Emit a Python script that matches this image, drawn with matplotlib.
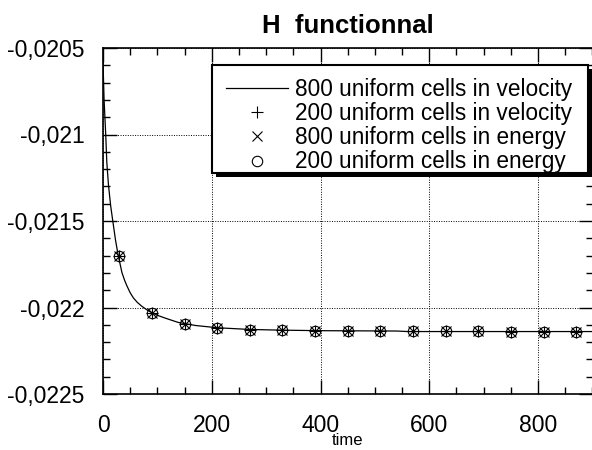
import matplotlib
matplotlib.use('Agg')
import matplotlib.pyplot as plt
from matplotlib.lines import Line2D
from matplotlib.patches import Rectangle
from matplotlib.transforms import ScaledTranslation
from matplotlib.ticker import MultipleLocator, FixedLocator, FixedFormatter

# ---------------- data ----------------
title = 'H  functionnal'
xlabel = 'time'
legend_labels = ['800 uniform cells in velocity',
                 '200 uniform cells in velocity',
                 '800 uniform cells in energy',
                 '200 uniform cells in energy']

# 800 uniform cells in velocity (continuous line)
line_time = [0, 2, 5, 7, 10, 14, 18, 23, 28, 35, 40, 44, 50, 56, 63, 71,
             80, 88, 100, 115, 138, 170, 210, 270, 330, 400, 470, 540, 560,
             650, 750, 850, 901]
line_H = [-0.02058, -0.02080, -0.02100, -0.02116, -0.02129, -0.02141,
          -0.02150, -0.02161, -0.02170, -0.021800, -0.021845, -0.021875,
          -0.021915, -0.021945, -0.021970, -0.021992, -0.022012, -0.022027,
          -0.022045, -0.022062, -0.022086, -0.022104, -0.022117,
          -0.022127, -0.022131, -0.022134, -0.022135, -0.022136, -0.022139,
          -0.022139, -0.022139, -0.022139, -0.022139]

marker_time = [30, 90, 150, 210, 270, 330, 390, 450, 510, 570, 630, 690,
               750, 810, 870]
vel200_H = [-0.021702, -0.022030, -0.022094, -0.022117, -0.022128,
            -0.022132, -0.022136, -0.022136, -0.022136, -0.022138,
            -0.022138, -0.022138, -0.022139, -0.022139, -0.022139]
en800_H = [-0.021702, -0.022030, -0.022094, -0.022117, -0.022128,
           -0.022132, -0.022136, -0.022136, -0.022136, -0.022138,
           -0.022138, -0.022138, -0.022139, -0.022139, -0.022139]
en200_H = [-0.021702, -0.022030, -0.022094, -0.022117, -0.022128,
           -0.022132, -0.022136, -0.022136, -0.022136, -0.022138,
           -0.022138, -0.022138, -0.022139, -0.022139, -0.022139]

x_ticks = [0, 200, 400, 600, 800]
x_ticklabels = ['0', '200', '400', '600', '800']
y_ticks = [-0.0225, -0.022, -0.0215, -0.021, -0.0205]
y_ticklabels = ['-0,0225', '-0,022', '-0,0215', '-0,021', '-0,0205']

# ---------------- plot ----------------
plt.rcParams['font.family'] = ['Liberation Sans', 'DejaVu Sans']

fig = plt.figure(figsize=(5.92, 4.5), dpi=100)
ax = fig.add_axes([103 / 592, 56 / 450, 490 / 592, 346 / 450])

ax.plot(line_time, line_H, color='black', lw=0.9, zorder=3)
ax.plot(marker_time, vel200_H, ls='none', marker='+', ms=9, mec='black',
        mew=0.8, zorder=4)
ax.plot(marker_time, en800_H, ls='none', marker='x', ms=7, mec='black',
        mew=0.8, zorder=4)
ax.plot(marker_time, en200_H, ls='none', marker='o', ms=7.5, mfc='none',
        mec='black', mew=0.8, zorder=4)

ax.set_xlim(0, 901)
ax.set_ylim(-0.0225, -0.0205)

ax.xaxis.set_major_locator(FixedLocator(x_ticks))
ax.xaxis.set_major_formatter(FixedFormatter(x_ticklabels))
ax.xaxis.set_minor_locator(MultipleLocator(50))
ax.yaxis.set_major_locator(FixedLocator(y_ticks))
ax.yaxis.set_major_formatter(FixedFormatter(y_ticklabels))
ax.yaxis.set_minor_locator(MultipleLocator(0.0001))

ax.tick_params(which='both', direction='in', top=True, right=True,
               color='black', width=1.0)
ax.tick_params(which='major', length=10, labelsize=16.5)
ax.tick_params(which='minor', length=5)
ax.tick_params(axis='x', which='major', pad=14.5)
ax.tick_params(axis='y', which='major', pad=13.4)

for sp in ax.spines.values():
    sp.set_linewidth(1.2)

ax.grid(True, which='major', color='black', linestyle=(0, (1, 1.5)),
        linewidth=0.7)
ax.set_axisbelow(True)

ax.set_title(title, fontsize=18.5, fontweight='bold', pad=11)
ax.set_xlabel(xlabel, fontsize=12)
ax.xaxis.set_label_coords(0.5, -0.113)

# legend frame with solid black drop shadow (drawn by hand)
fx0, fy0, fw, fh = 0.2224, 0.6387, 0.7674, 0.3122
shadow_tr = ax.transAxes + ScaledTranslation(4 / 100, -4 / 100,
                                             fig.dpi_scale_trans)
ax.add_patch(Rectangle((fx0, fy0), fw, fh, transform=shadow_tr,
                       facecolor='black', edgecolor='none', zorder=8,
                       clip_on=False))
ax.add_patch(Rectangle((fx0, fy0), fw, fh, transform=ax.transAxes,
                       facecolor='white', edgecolor='black', lw=1.5,
                       zorder=9, clip_on=False))

handles = [
    Line2D([], [], color='black', lw=0.9),
    Line2D([], [], ls='none', marker='+', ms=9, mec='black', mew=0.8),
    Line2D([], [], ls='none', marker='x', ms=7, mec='black', mew=0.8),
    Line2D([], [], ls='none', marker='o', ms=7.5, mfc='none', mec='black',
           mew=0.8),
]
leg = ax.legend(handles, legend_labels, loc='upper left',
                bbox_to_anchor=(0.251, 0.913), frameon=False,
                handlelength=2.75, handletextpad=0.3,
                labelspacing=0.05, borderpad=0, borderaxespad=0,
                prop={'size': 16.3})
leg.set_zorder(10)

fig.savefig('out.png', dpi=100)
